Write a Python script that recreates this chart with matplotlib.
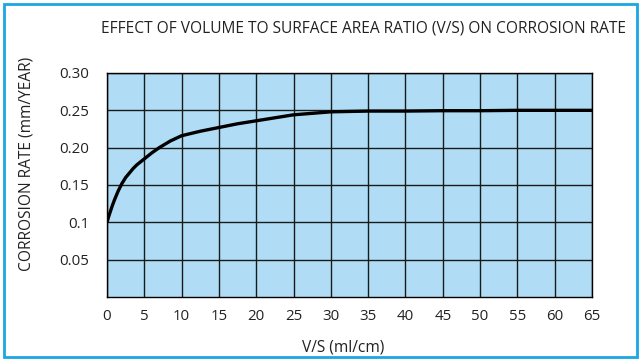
import matplotlib
matplotlib.use("Agg")
import matplotlib.pyplot as plt
from matplotlib.patches import Rectangle

# values
vs = [0, 0.2, 0.4, 0.7, 1, 1.5, 2, 2.5, 3, 3.5, 4, 5, 6, 7, 8.5, 10, 12.5, 15, 17.5, 20,
      22.5, 25, 27.5, 30, 35, 40, 45, 50, 55, 60, 65]
rate = [0.100, 0.107, 0.113, 0.122, 0.130, 0.142, 0.152, 0.160, 0.166, 0.172, 0.177, 0.185,
        0.193, 0.200, 0.209, 0.216, 0.222, 0.227, 0.232, 0.236, 0.240, 0.244, 0.246, 0.248,
        0.249, 0.249, 0.2495, 0.2495, 0.25, 0.25, 0.25]

x_ticks = list(range(0, 66, 5))
y_ticks = [0.05, 0.10, 0.15, 0.20, 0.25, 0.30]
y_labels = ["0.05", "0.1", "0.15", "0.20", "0.25", "0.30"]

plt.rcParams['font.family'] = ['Open Sans', 'DejaVu Sans']

fig = plt.figure(figsize=(6.41, 3.6), dpi=100)
ax = fig.add_axes([107 / 641, 1 - 297 / 360, 485 / 641, 224 / 360])
ax.set_facecolor('#B0DDF5')

ax.plot(vs, rate, color='black', linewidth=2.4, solid_capstyle='butt',
        solid_joinstyle='round', zorder=3)

ax.set_xlim(0, 65)
ax.set_ylim(0, 0.30)
ax.set_xticks(x_ticks)
ax.set_yticks(y_ticks)
ax.set_yticklabels(y_labels)
ax.grid(True, color='#1a1a1a', linewidth=1.0)
ax.tick_params(length=0, labelsize=10.8, colors='#222222')
ax.tick_params(axis='y', pad=13)
ax.tick_params(axis='x', pad=9)
for s in ax.spines.values():
    s.set_color('black')
    s.set_linewidth(1.0)

fig.text(0.567, 0.922, "EFFECT OF VOLUME TO SURFACE AREA RATIO (V/S) ON CORROSION RATE",
         ha='center', va='center', fontsize=11.2, color='#222222')
fig.text(27 / 641, 0.546, "CORROSION RATE (mm/YEAR)", rotation=90,
         ha='center', va='center', fontsize=11.2, color='#222222')
fig.text(0.535, 0.036, "V/S (ml/cm)", ha='center', va='center', fontsize=11.2, color='#222222')

fig.patches.append(Rectangle((3.5 / 641, 3.5 / 360), 633.5 / 641, 352.5 / 360,
                             transform=fig.transFigure, fill=False,
                             edgecolor='#1AA7E4', linewidth=2))

fig.savefig("out.png", dpi=100)
